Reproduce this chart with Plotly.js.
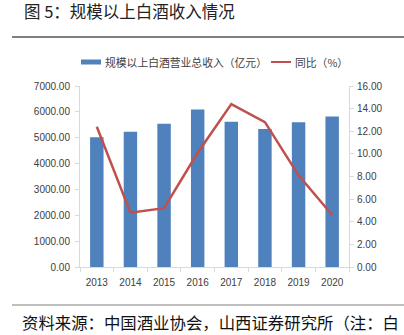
<!DOCTYPE html>
<html><head><meta charset="utf-8">
<script src="https://cdn.plot.ly/plotly-3.0.1.min.js"></script>
<style>html,body{margin:0;padding:0;background:#fff}#c{width:404px;height:335px}</style>
</head><body><div id="c"></div>
<script>
const years = ['2013','2014','2015','2016','2017','2018','2019','2020'];
const revenue = [5018, 5230, 5540, 6090, 5620, 5340, 5600, 5820];
const yoy = [12.4, 4.8, 5.2, 10.1, 14.4, 12.8, 8.1, 4.6];
const leftTicks = [0,1000,2000,3000,4000,5000,6000,7000];
const rightTicks = [0,2,4,6,8,10,12,14,16];

const cjk = '"Noto Sans CJK SC", sans-serif';
const num = '"Liberation Sans", Arial, sans-serif';

const data = [
  {type:'bar', x:years, y:revenue, marker:{color:'#4F81BD'}, width:0.4, hoverinfo:'none'},
  {type:'scatter', mode:'lines', x:years, y:yoy, yaxis:'y2', line:{color:'#C0504D', width:2.5}, hoverinfo:'none'}
];

const axisCol = '#d9d9d9';
const layout = {
  width:404, height:335,
  margin:{l:80, r:55, t:86, b:68},
  paper_bgcolor:'#fff', plot_bgcolor:'#fff',
  showlegend:false,
  font:{family:num, size:10, color:'#404040'},
  xaxis:{type:'category', showline:true, linecolor:axisCol, linewidth:1, ticks:'outside', tickson:'boundaries', ticklen:4, tickcolor:axisCol, showgrid:false, ticklabelstandoff:6, tickfont:{family:num, size:10, color:'#404040'}, range:[-0.5,7.5]},
  yaxis:{range:[0,7000], tickvals:leftTicks, ticktext:leftTicks.map(v=>v.toFixed(2)), showline:true, linecolor:axisCol, ticks:'outside', ticklen:4, tickcolor:axisCol, showgrid:false, zeroline:false, ticklabelstandoff:3, tickfont:{family:num, size:10, color:'#404040'}},
  yaxis2:{overlaying:'y', side:'right', range:[0,16], tickvals:rightTicks, ticktext:rightTicks.map(v=>v.toFixed(2)), showline:true, linecolor:axisCol, ticks:'outside', ticklen:4, tickcolor:axisCol, showgrid:false, zeroline:false, ticklabelstandoff:1, tickfont:{family:num, size:10, color:'#404040'}},
  shapes:[
    {type:'line', xref:'paper', yref:'paper', x0:-68/269, x1:324/269, y0:(267-37)/181, y1:(267-37)/181, line:{color:'#000', width:1.2}},
    {type:'line', xref:'paper', yref:'paper', x0:-68/269, x1:324/269, y0:(267-305)/181, y1:(267-305)/181, line:{color:'#808080', width:1}},
    {type:'rect', xref:'paper', yref:'paper', x0:1/269, x1:21/269, y0:(267-64.5)/181, y1:(267-59.5)/181, fillcolor:'#4F81BD', line:{width:0}},
    {type:'line', xref:'paper', yref:'paper', x0:191/269, x1:211/269, y0:(267-62)/181, y1:(267-62)/181, line:{color:'#C0504D', width:2}}
  ],
  annotations:[
    {xref:'paper', yref:'paper', x:-58/269, y:(267-11)/181, xanchor:'left', yanchor:'middle', text:'图 5：规模以上白酒收入情况', showarrow:false, font:{family:cjk, size:16.5, color:'#222'}},
    {xref:'paper', yref:'paper', x:23/269, y:(267-62)/181, xanchor:'left', yanchor:'middle', text:'规模以上白酒营业总收入（亿元）', showarrow:false, font:{family:cjk, size:10.8, color:'#404040'}},
    {xref:'paper', yref:'paper', x:213/269, y:(267-62)/181, xanchor:'left', yanchor:'middle', text:'同比（%）', showarrow:false, font:{family:cjk, size:10.8, color:'#404040'}},
    {xref:'paper', yref:'paper', x:-60/269, y:(267-322)/181, xanchor:'left', yanchor:'middle', text:'资料来源：中国酒业协会，山西证券研究所（注：白', showarrow:false, font:{family:cjk, size:16.4, color:'#111'}}
  ]
};
Plotly.newPlot('c', data, layout, {staticPlot:true});
</script></body></html>
